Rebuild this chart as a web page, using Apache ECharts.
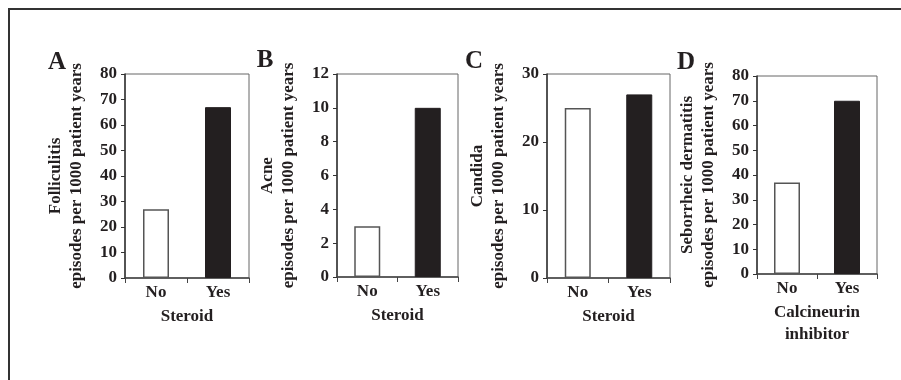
<!DOCTYPE html>
<html>
<head>
<meta charset="utf-8">
<script src="https://cdn.jsdelivr.net/npm/echarts@6/dist/echarts.min.js"></script>
<style>
  html, body { margin: 0; padding: 0; background: #fff; }
  #main { width: 901px; height: 380px; }
</style>
</head>
<body>
<div id="main"></div>
<script>
// data
var categories = ['No', 'Yes'];
var panelLetters = ['A', 'B', 'C', 'D'];
var yTitles = ['Folliculitis', 'Acne', 'Candida', 'Seborrheic dermatitis'];
var yUnit = 'episodes per 1000 patient years';
var xTitles = ['Steroid', 'Steroid', 'Steroid', 'Calcineurin\ninhibitor'];
var folliculitis = [27, 67];
var acne = [3, 10];
var candida = [25, 27];
var seborrheic = [37, 70];
var yMax = [80, 12, 30, 80];
var yStep = [10, 2, 10, 10];

// layout of the four panels
var grids = [
  { left: 125, top: 74, width: 124, height: 204 },
  { left: 337, top: 74, width: 121, height: 203 },
  { left: 547, top: 74, width: 123, height: 204 },
  { left: 757, top: 76, width: 120, height: 198 }
];
var letterPos = [[57, 63], [265, 61], [474, 62], [686, 63]];

var font = 'Liberation Serif';
var ink = '#231f20';
var allData = [folliculitis, acne, candida, seborrheic];

var option = {
  animation: false,
  backgroundColor: '#fff',
  grid: [], xAxis: [], yAxis: [], series: [],
  graphic: []
};

for (var i = 0; i < 4; i++) {
  option.grid.push({
    left: grids[i].left, top: grids[i].top,
    width: grids[i].width, height: grids[i].height,
    show: true, borderColor: '#666', borderWidth: 1, backgroundColor: 'transparent'
  });
  option.xAxis.push({
    type: 'category', gridIndex: i, data: categories,
    axisLine: { lineStyle: { color: '#444', width: 1.5 } },
    axisTick: { show: true, length: 5, lineStyle: { color: '#444' } },
    axisLabel: { color: ink, fontFamily: font, fontWeight: 'bold', fontSize: 17, margin: 6 },
    name: xTitles[i], nameLocation: 'middle', nameGap: 25,
    nameTextStyle: { color: ink, fontFamily: font, fontWeight: 'bold', fontSize: 17, lineHeight: 22, verticalAlign: 'top' }
  });
  option.yAxis.push({
    type: 'value', gridIndex: i, min: 0, max: yMax[i], interval: yStep[i],
    splitLine: { show: false },
    axisLine: { show: true, lineStyle: { color: '#333', width: 1.5 } },
    axisTick: { show: true, length: 4, lineStyle: { color: '#333' } },
    axisLabel: { color: ink, fontFamily: font, fontWeight: 'bold', fontSize: 17, margin: 8 },
    name: yTitles[i] + '\n' + yUnit, nameLocation: 'middle', nameRotate: 90, nameGap: 38,
    nameTextStyle: { color: ink, fontFamily: font, fontWeight: 'bold', fontSize: 17, lineHeight: 21 }
  });
  option.series.push({
    type: 'bar', xAxisIndex: i, yAxisIndex: i, barWidth: 26,
    data: [
      { value: allData[i][0], itemStyle: { color: '#fff', borderColor: '#555', borderWidth: 1.5 } },
      { value: allData[i][1], itemStyle: { color: ink, borderColor: ink, borderWidth: 1 } }
    ]
  });
  option.graphic.push({
    type: 'text', x: letterPos[i][0], y: letterPos[i][1],
    style: { text: panelLetters[i], fill: ink, font: 'bold 25px "Liberation Serif"', textAlign: 'center', textVerticalAlign: 'middle' }
  });
}

// outer frame (only top and left edges show in the figure)
option.graphic.push({
  type: 'polyline', shape: { points: [[9, 380], [9, 9], [901, 9]] },
  style: { stroke: '#333', lineWidth: 2, fill: null }
});

echarts.init(document.getElementById('main')).setOption(option);
</script>
</body>
</html>
